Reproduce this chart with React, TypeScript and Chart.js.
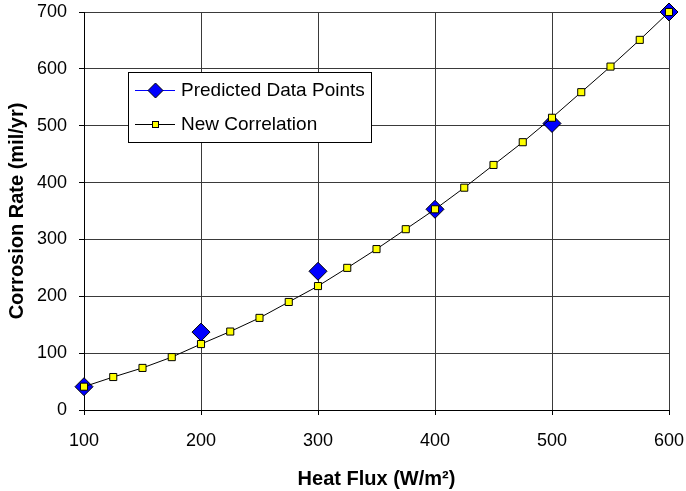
import React, { useEffect, useRef } from "react";
import { Chart, registerables } from "chart.js";

Chart.register(...registerables);

// ---- Data ----
const heatFluxPredicted = [100, 200, 300, 400, 500, 600];
const corrosionPredicted = [41, 137, 244, 353, 504, 700];

const heatFluxCorrelation = [
  100, 125, 150, 175, 200, 225, 250, 275, 300, 325, 350,
  375, 400, 425, 450, 475, 500, 525, 550, 575, 600,
];
const corrosionCorrelation = [
  41, 58, 74, 93, 116, 138, 162, 190, 218, 250, 283,
  318, 353, 391, 431, 471, 514, 559, 604, 651, 700,
];

const xTickValues = [100, 200, 300, 400, 500, 600];
const yTickValues = [0, 100, 200, 300, 400, 500, 600, 700];

const seriesNames = ["Predicted Data Points", "New Correlation"];
const xTitle = "Heat Flux (W/m\u00B2)";
const yTitle = "Corrosion Rate (mil/yr)";

const FONT = "'Liberation Sans', Arial, Helvetica, sans-serif";

const legendPlugin = {
  id: "boxLegend",
  afterDraw(chart: any) {
    const ctx = chart.ctx as CanvasRenderingContext2D;
    const area = chart.chartArea;
    const left = area.left + 44;
    const top = area.top + 60;
    const w = 243;
    const h = 70;
    ctx.save();
    ctx.fillStyle = "#ffffff";
    ctx.fillRect(left, top, w, h);
    ctx.strokeStyle = "#000000";
    ctx.lineWidth = 1;
    ctx.strokeRect(left + 0.5, top + 0.5, w, h);

    const lineX0 = left + 7;
    const lineX1 = left + 47;
    const markX = left + 27.5;
    const textX = left + 53;
    const y1 = top + 18.5;
    const y2 = top + 52.5;

    // entry 1: blue line + diamond
    ctx.strokeStyle = "#0000ff";
    ctx.beginPath();
    ctx.moveTo(lineX0, y1);
    ctx.lineTo(lineX1, y1);
    ctx.stroke();
    ctx.beginPath();
    const r = 7.5;
    ctx.moveTo(markX - r, y1);
    ctx.lineTo(markX, y1 - r);
    ctx.lineTo(markX + r, y1);
    ctx.lineTo(markX, y1 + r);
    ctx.closePath();
    ctx.fillStyle = "#0000ff";
    ctx.fill();
    ctx.strokeStyle = "#000000";
    ctx.stroke();

    // entry 2: black line + yellow square
    ctx.strokeStyle = "#000000";
    ctx.beginPath();
    ctx.moveTo(lineX0, y2);
    ctx.lineTo(lineX1, y2);
    ctx.stroke();
    ctx.fillStyle = "#ffff00";
    ctx.fillRect(markX - 3, y2 - 3, 6, 6);
    ctx.strokeRect(markX - 3, y2 - 3, 6, 6);

    ctx.fillStyle = "#000000";
    ctx.font = `19px ${FONT}`;
    ctx.textBaseline = "middle";
    ctx.textAlign = "left";
    ctx.fillText(seriesNames[0], textX, y1);
    ctx.fillText(seriesNames[1], textX, y2);
    ctx.restore();
  },
};

export default function App() {
  const canvasRef = useRef<HTMLCanvasElement | null>(null);

  useEffect(() => {
    document.body.style.margin = "0";
    const canvas = canvasRef.current;
    if (!canvas) return;

    const chart = new Chart(canvas, {
      type: "scatter",
      data: {
        datasets: [
          {
            label: seriesNames[0],
            data: heatFluxPredicted.map((x, i) => ({ x, y: corrosionPredicted[i] })),
            showLine: false,
            clip: false,
            pointStyle: "rectRot",
            pointRadius: 9,
            pointBackgroundColor: "#0000ff",
            pointBorderColor: "#000000",
            pointBorderWidth: 1,
            order: 1,
          },
          {
            label: seriesNames[1],
            data: heatFluxCorrelation.map((x, i) => ({ x, y: corrosionCorrelation[i] })),
            showLine: true,
            clip: false,
            borderColor: "#000000",
            borderWidth: 1,
            pointStyle: "rect",
            pointRadius: 5,
            pointBackgroundColor: "#ffff00",
            pointBorderColor: "#000000",
            pointBorderWidth: 1,
            order: 0,
          },
        ],
      },
      options: {
        animation: false,
        responsive: false,
        devicePixelRatio: 1,
        layout: { padding: { top: 12, right: 17, left: 0, bottom: 0 } },
        plugins: {
          legend: { display: false },
          tooltip: { enabled: false },
        },
        scales: {
          x: {
            type: "linear",
            min: xTickValues[0],
            max: xTickValues[xTickValues.length - 1],
            afterBuildTicks: (scale: any) => {
              scale.ticks = xTickValues.map((v) => ({ value: v }));
            },
            afterFit: (scale: any) => {
              scale.height = 81;
              scale.paddingLeft = 0;
              scale.paddingRight = 0;
            },
            grid: { color: "#3a3a3a", lineWidth: 1, tickLength: 5, tickColor: "#000" },
            border: { display: true, color: "#000", width: 1 },
            ticks: {
              color: "#000",
              font: { family: FONT, size: 18 },
              padding: 15,
              maxRotation: 0,
            },
            title: {
              display: true,
              text: xTitle,
              color: "#000",
              font: { family: FONT, size: 20, weight: "bold" },
              padding: { top: 0, bottom: 0 },
            },
          },
          y: {
            type: "linear",
            min: yTickValues[0],
            max: yTickValues[yTickValues.length - 1],
            afterBuildTicks: (scale: any) => {
              scale.ticks = yTickValues.map((v) => ({ value: v }));
            },
            afterFit: (scale: any) => {
              scale.width = 84;
              scale.paddingTop = 0;
              scale.paddingBottom = 0;
            },
            grid: { color: "#3a3a3a", lineWidth: 1, tickLength: 5, tickColor: "#000" },
            border: { display: true, color: "#000", width: 1 },
            ticks: {
              color: "#000",
              font: { family: FONT, size: 18 },
              padding: 12,
            },
            title: {
              display: true,
              text: yTitle,
              color: "#000",
              font: { family: FONT, size: 20, weight: "bold" },
              padding: { top: 5, bottom: 0 },
            },
          },
        },
      },
      plugins: [legendPlugin],
    });

    return () => chart.destroy();
  }, []);

  return (
    <div style={{ width: 686, height: 491 }}>
      <canvas ref={canvasRef} width={686} height={491} style={{ display: "block" }} />
    </div>
  );
}
